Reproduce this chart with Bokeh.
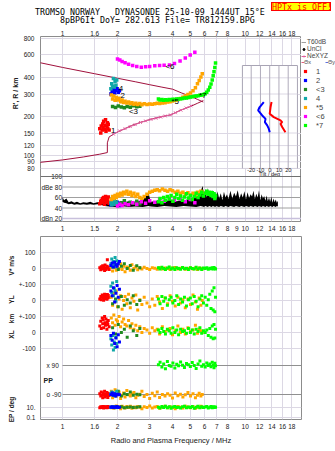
import math
from bokeh.plotting import figure
from bokeh.layouts import column, row
from bokeh.models import (Range1d, LogAxis, LinearAxis, FixedTicker, Legend, LegendItem,
                          Span, LogScale, LinearScale, Div)
from bokeh.core.properties import value
from bokeh.embed import file_html
from bokeh.resources import INLINE

# ---------------- texts / ticks ----------------
title_line1 = "TROMSO NORWAY   DYNASONDE 25-10-09 1444UT 15°E"
title_line2 = "8pBP6It DoY= 282.613 File= TR812159.BPG"
hptx_text = "HPTx is OFF!"
freq_ticks = [1, 1.5, 2, 3, 4, 5, 6, 7, 8, 10, 12, 14, 16, 18]
freq_labels = ["1", "1.6", "2", "3", "4", "5", "6", "7", "8", "10", "12", "14", "16", "18"]
freq_ticks_mid = [1, 1.5, 2, 3, 4, 5, 6, 7, 8, 9, 10, 12, 14, 16, 18]
freq_labels_mid = ["1", "1.5", "2", "3", "4", "5", "6", "7", "8", "9", "10", "12", "14", "16", "18"]
height_ticks = [80, 90, 100, 120, 150, 200, 300, 400, 600, 800]
db_ticks = [100, 80, 60, 40, 20]
db_tick_labels = ["100", "dBe 80", "60", "40", "dBn 20"]
db_grid = [80, 60, 40]
tilt_ticks = [-20, -10, 0, 10, 20]
tilt_tick_labels = ["-20", "-10", "0", "10", "20"]

# ---------------- echoes ----------------
f1 = [1.60, 1.62, 1.63, 1.65, 1.66, 1.67, 1.68, 1.70, 1.71, 1.72, 1.73, 1.75, 1.76, 1.77, 1.78, 1.80]
r1 = [162, 150, 170, 158, 176, 165, 185, 160, 172, 190, 155, 168, 180, 163, 175, 158]
db1 = [48, 52, 55, 50, 58, 54, 60, 47, 56, 62, 51, 57, 59, 53, 61, 49]
vs1 = [5, -8, 12, 0, 18, -3, 8, -12, 22, 3, -5, 15, 56, 2, 10, -6]
yl1 = [10, 25, 5, 35, 18, 30, 2, 40, 12, 28, 22, 8, 38, 15, 32, 20]
xl1 = [40, 70, 25, 90, 55, 80, 30, 100, 60, 45, 85, 20, 65, 50, 75, 35]
pp1 = [-85, -100, -75, -95, -110, -80, -90, -70, -105, -88, -98, -78, -92, -108, -84, -96]
ep1 = [8, 12, 10, 9, 11, 13, 7, 10, 12, 9, 11, 8, 10, 14, 9, 11]

f2 = [1.84, 1.87, 1.90, 1.93, 1.96, 1.99, 2.02, 2.05]
r2 = [300, 315, 325, 305, 320, 330, 310, 318]
db2 = [46, 50, 48, 52, 47, 51, 49, 45]
vs2 = [20, 35, 10, 40, 25, 15, 30, 45]
yl2 = [60, 30, 80, -10, 45, 95, 20, 70]
xl2 = [-20, -50, -5, -70, -35, -90, -15, -60]
pp2 = [-90, -80, -95, -85, -100, -90, -88, -92]
ep2 = [10, 12, 9, 11, 10, 13, 9, 10]

f3 = [1.88, 1.95, 2.02, 2.10, 2.18, 2.26, 2.35, 2.44, 2.55, 2.65]
r3 = [240, 236, 242, 238, 235, 240, 237, 243, 239, 241]
db3 = [48, 52, 46, 50, 54, 47, 51, 49, 53, 48]
vs3 = [10, 25, -5, 15, 30, 0, 20, -10, 18, 5]
yl3 = [-20, 10, -40, 25, -30, 5, -15, 30, -25, 0]
xl3 = [30, -10, 50, 0, 20, -30, 40, 10, -20, 25]
pp3 = [-80, -95, -70, -100, -85, -90, -75, -95, -88, -92]
ep3 = [9, 11, 10, 12, 8, 10, 11, 9, 10, 12]

f4 = [1.84, 1.86, 1.88, 1.90, 1.92, 1.94, 1.96, 1.98]
r4 = [330, 360, 345, 395, 340, 375, 350, 385]
db4 = [50, 46, 53, 48, 55, 47, 51, 49]
vs4 = [30, 60, 15, 45, 25, 70, 10, 50]
yl4 = [90, 50, 110, 30, 75, 60, -5, 120]
xl4 = [-40, -80, -20, -110, -60, -95, -30, -70]
pp4 = [-85, -75, -95, -90, -80, -100, -88, -70]
ep4 = [10, 11, 9, 12, 10, 8, 11, 10]

f5 = [1.85, 1.88, 1.91, 1.94, 1.97, 2.00, 2.04, 2.08, 2.12, 2.16, 2.20, 2.25, 2.30, 2.35, 2.40,
      2.46, 2.52, 2.58, 2.65, 2.72, 2.80, 2.90, 3.00, 3.10, 3.20, 3.30, 3.40, 3.52, 3.64, 3.76,
      3.88, 4.00, 4.14, 4.28, 4.42, 4.56, 4.70, 4.86, 5.02, 5.18, 5.34, 5.48, 5.60, 5.72, 5.82]
r5 = [295, 275, 290, 268, 282, 270, 278, 262, 270, 258, 264, 256, 260, 253, 257,
      250, 255, 249, 253, 248, 252, 249, 251, 250, 252, 254, 253, 256, 257, 260,
      262, 265, 268, 272, 277, 283, 289, 297, 305, 318, 335, 360, 382, 405, 430]
db5 = [56, 62, 58, 64, 60, 66, 63, 68, 65, 70, 67, 72, 66, 70, 64,
       68, 62, 66, 60, 58, 62, 66, 70, 72, 74, 75, 73, 76, 74, 72,
       75, 73, 70, 72, 68, 70, 66, 69, 65, 68, 64, 70, 67, 72, 70]
vs5 = [10, -15, 25, 5, -10, 20, 0, 30, -5, 15, -20, 10, 5, -10, 25,
       0, 12, -8, 5, -3, 8, 0, -5, 6, 2, -4, 5, -2, 4, 0,
       -6, 3, 7, -3, 2, 5, -4, 1, 6, -2, 3, -5, 4, 0, -3]
yl5 = [20, -30, 45, -10, 60, -40, 10, 30, -55, 0, 25, -20, 40, -45, 15,
       -5, 35, -60, 5, -25, 20, -15, -40, 10, -30, 25, -10, -50, 15, -20,
       30, -5, -35, 20, -15, 5, -45, 10, -25, 35, -10, -55, 15, -30, 0]
xl5 = [90, 60, 110, 45, 80, 70, 100, 35, 65, 85, 50, 40, 75, 30, 55,
       20, 45, 10, 35, 0, 25, 15, -5, 30, 10, 20, -10, 35, 5, 15,
       25, -15, 10, 40, 0, 20, -10, 30, 5, 15, 45, -5, 20, 10, 0]
pp5 = [-70, -110, -85, -60, -100, -90, -75, -115, -95, -80, -105, -65, -92, -100, -85,
       -78, -110, -95, -88, -70, -102, -90, -115, -82, -97, -75, -108, -90, -100, -85,
       -95, -112, -80, -98, -88, -105, -92, -78, -100, -86, -110, -94, -82, -99, -90]
ep5 = [8, 14, 6, 11, 18, 9, 12, 5, 15, 10, 7, 13, 9, 16, 6,
       11, 8, 14, 10, 5, 12, 9, 17, 7, 11, 13, 6, 10, 15, 8,
       12, 9, 5, 14, 10, 7, 16, 11, 8, 13, 6, 12, 9, 15, 10]

f6 = [2.00, 2.06, 2.12, 2.20, 2.30, 2.42, 2.55, 2.70, 2.85, 3.00, 3.20, 3.40, 3.60, 3.85,
      4.10, 4.40, 4.70, 5.00, 5.30]
r6 = [560, 548, 535, 522, 510, 498, 488, 482, 486, 490, 495, 498, 500, 503, 515, 540, 570, 600, 630]
db6 = [44, 47, 45, 48, 46, 50, 47, 52, 49, 54, 51, 56, 53, 58, 55, 57, 52, 56, 50]

f7 = [3.35, 3.42, 3.50, 3.58, 3.66, 3.75, 3.84, 3.93, 4.02, 4.12, 4.22, 4.32, 4.43, 4.54,
      4.65, 4.77, 4.89, 5.01, 5.13, 5.26, 5.39, 5.52, 5.65, 5.78, 5.91, 6.04, 6.16, 6.28,
      6.40, 6.50, 6.60, 6.68, 6.75, 6.82, 6.88]
r7 = [274, 270, 272, 268, 271, 270, 272, 271, 273, 272, 274, 275, 276, 277,
      279, 280, 282, 284, 286, 288, 290, 291, 293, 295, 298, 302, 310, 322,
      338, 358, 385, 415, 445, 480, 520]
db7 = [52, 58, 50, 60, 55, 62, 57, 64, 53, 60, 66, 58, 63, 55, 61, 67, 59, 64, 56, 62,
       68, 60, 65, 70, 63, 68, 72, 66, 70, 64, 69, 62, 67, 58, 64]
vs7 = [5, -3, 8, 0, -6, 4, 10, -2, 3, -5, 6, 1, -4, 7, -1, 2, -6, 5, 0, -3,
       8, -2, 4, -5, 3, 0, 6, -4, 2, -1, 5, -3, 7, 0, -2]
yl7 = [10, -20, 25, -5, 15, -30, 5, 20, -15, 0, 30, -25, 10, -10, 20, -35, 5, 15, -20, 25,
       -5, -40, 10, 30, -15, 20, -30, 5, 40, -50, 60, -60, 80, -70, 20]
xl7 = [15, 0, 25, 5, -10, 20, 10, -5, 30, 0, 15, -15, 20, 5, 10, -5, 25, 0, 15, -10,
       20, 5, 30, -5, 10, 0, 15, -20, 25, -30, 40, -40, 50, -35, 20]
pp7 = [95, 110, 80, 100, 70, 115, 90, 85, 105, 75, 98, 88, 112, 92, 78, 102, 95, 84, 108, 90,
       72, 100, 118, 86, 94, 80, 106, 90, 99, 83, 110, 92, 76, 104, 88]
ep7 = [10, 7, 13, 9, 15, 8, 12, 6, 11, 14, 9, 10, 7, 12, 16, 8, 11, 9, 13, 6,
       10, 15, 8, 12, 9, 11, 14, 7, 10, 13, 8, 12, 9, 11, 10]

echo_names = ["1", "2", "<3", "4", "*5", "<6", "*7"]
echo_colors = ["#ff0000", "#0000ff", "#208a20", "#10a8a8", "#ffa500", "#ff00ff", "#00ff00"]
echo_label_f = [1.84, 2.08, 2.31, 2.03, 3.95, 3.66, 5.58]
echo_label_h = [158, 292, 220, 328, 263, 490, 292]
echo_label_text = ["1", "2", "<3", "4", "*5", "<6", "*7"]

# ---------------- profile / model lines ----------------
upper_f = [0.75, 1.0, 1.5, 2.0, 2.5, 3.0, 3.5, 4.0, 4.5, 5.0, 5.5, 5.9]
upper_h = [524, 481, 430, 397, 373, 354, 339, 327, 305, 289, 272, 260]
prof_f = [0.75, 1.0, 1.3, 1.6, 1.76, 1.76, 1.80, 1.95, 2.15, 2.4, 2.7, 3.1, 3.5, 3.9, 4.4, 5.0, 5.5, 5.9]
prof_h = [89, 93, 98, 103, 106, 126, 140, 150, 160, 172, 182, 193, 201, 207, 224, 240, 255, 267]
ne_f = [1.90, 2.05, 2.2, 2.35, 2.5, 2.67, 2.85, 3.05, 3.25, 3.45, 3.65, 3.9, 4.15, 4.45, 4.75, 5.05]
ne_h = [147, 156, 162, 168, 174, 181, 186, 191, 195, 199, 203, 207, 215, 225, 234, 243]

# ---------------- tilt inset ----------------
thx_deg = [2.0, 0.9, 0.0, 4.4, 11.7, 13.5, 11.7, 13.5, 17.0]
thx_h = [260, 237, 211, 199, 188, 182, 177, 167, 152]
thy_deg = [-6.4, -11.0, -12.5, -8.1, -4.5, -5.2, -2.7, -1.0, 0.0]
thy_h = [260, 237, 224, 205, 193, 182, 172, 162, 152]

# ---------------- noise (dBe) ----------------
noise_f = [1.00, 1.02, 1.05, 1.08, 1.12, 1.16, 1.20, 1.25, 1.30, 1.36, 1.42, 1.48, 1.55, 1.62, 1.70,
           1.80, 1.95, 2.10, 2.30, 2.50, 2.75, 2.95, 3.05, 3.30, 3.60, 3.90, 4.20, 4.60, 5.00, 5.40,
           5.70, 5.85, 5.95, 6.05, 6.15, 6.25, 6.35, 6.45, 6.55, 6.65, 6.75, 6.85, 6.95, 7.05, 7.2,
           7.35, 7.5, 7.65, 7.8, 7.95, 8.1, 8.3, 8.5, 8.7, 8.9, 9.1, 9.3, 9.5, 9.7, 9.9,
           10.1, 10.3, 10.5, 10.7, 10.9, 11.1, 11.3, 11.5, 11.7, 11.9, 12.1, 12.3, 12.5, 12.7, 12.9,
           13.1, 13.3, 13.5, 13.7, 13.9, 14.1, 14.3, 14.5, 14.7, 14.9, 15.1]
noise_hi = [61, 55, 58, 51, 53, 50, 52, 49, 51, 50, 52, 49, 51, 50, 52,
            50, 52, 50, 53, 51, 55, 68, 52, 54, 52, 56, 53, 55, 57, 60,
            72, 82, 65, 76, 60, 78, 62, 72, 58, 75, 60, 70, 56, 72, 58,
            68, 55, 71, 60, 66, 57, 73, 58, 69, 62, 74, 57, 68, 60, 72,
            56, 70, 59, 66, 62, 73, 57, 67, 60, 74, 55, 66, 58, 63, 54,
            64, 53, 60, 52, 62, 50, 58, 51, 56, 50, 54]
noise_lo = [52, 50, 49, 47, 48, 46, 47, 46, 47, 46, 47, 46, 47, 46, 44,
            43, 42, 44, 42, 43, 42, 44, 43, 42, 44, 43, 42, 44, 43, 42,
            44, 43, 42, 44, 43, 42, 44, 43, 42, 44, 43, 42, 44, 43, 42,
            44, 43, 42, 44, 43, 42, 44, 43, 42, 44, 43, 42, 44, 43, 42,
            44, 43, 42, 44, 43, 42, 44, 43, 42, 44, 43, 42, 44, 43, 42,
            44, 43, 42, 44, 43, 42, 44, 43, 42, 44, 43]

# ---------------- layout helpers (pixel geometry of the panels) ----------------
FONT = "Liberation Sans"
MONO = "DejaVu Sans Mono"
GRID = "#dcd8e4"
FRAME = "#8c8c8c"
MAROON = "#a0103c"
PINK = "#e0609f"
TXT = "#202020"
HEADER_H = 26
TOP_FRAME_TOP, TOP_FRAME_BOT = 36.0, 221.0


def fx(px):       # frequency at canvas x
    return 10 ** ((px - 62.0) / 182.7)


def hy(py):       # virtual height at canvas y (upper figure)
    return 800 * 10 ** (-(py - 38.3) / 129.6)


def dbat(py):     # dB at canvas y (upper figure)
    return 100 - (py - 176.0) / 0.525


def tx(px):       # tilt degrees at canvas x (inset)
    return (px - 269.2) / 0.925


def style_axis(ax, size="6.5px", standoff=2):
    ax.axis_line_color = None
    ax.major_tick_line_color = None
    ax.minor_tick_line_color = None
    ax.major_tick_out = 0
    ax.major_tick_in = 0
    ax.minor_tick_out = 0
    ax.minor_tick_in = 0
    ax.major_label_text_font = FONT
    ax.major_label_text_font_size = size
    ax.major_label_text_color = TXT
    ax.major_label_standoff = standoff


def plain(fig):
    fig.xaxis.visible = False
    fig.yaxis.visible = False
    fig.xgrid.visible = False
    fig.ygrid.visible = False
    fig.outline_line_color = None
    fig.background_fill_color = "white"
    fig.border_fill_color = "white"


# ================= header (title lines and transmitter flag) =================
head_html = (
    '<div style="position:relative;width:335px;height:%dpx;font-family:\'%s\',monospace;'
    'font-size:8.3px;line-height:1;color:#000;white-space:pre;">'
    '<span style="position:absolute;left:35px;top:7.6px;">%s</span>'
    '<span style="position:absolute;left:60px;top:16.4px;">%s</span>'
    '<span style="position:absolute;left:271px;top:2px;width:60px;height:9px;line-height:9px;'
    'background:#ffff00;border:1px solid #ff0000;color:#ff0000;text-align:center;">%s</span>'
    '</div>' % (HEADER_H, MONO, title_line1, title_line2, hptx_text))
head = Div(text=head_html, width=335, height=HEADER_H, margin=(0, 0, 0, 0))

# ================= upper figure (heights + dBe) =================
top = figure(frame_width=261, frame_height=int(TOP_FRAME_BOT - TOP_FRAME_TOP),
             x_axis_type="log", y_axis_type="log",
             x_range=Range1d(fx(40), fx(301)), y_range=Range1d(hy(TOP_FRAME_BOT), hy(TOP_FRAME_TOP)),
             min_border_left=40, min_border_right=0, min_border_top=int(TOP_FRAME_TOP) - HEADER_H,
             min_border_bottom=15, output_backend="svg", toolbar_location=None)
top.extra_y_ranges = {"db": Range1d(dbat(TOP_FRAME_BOT), dbat(TOP_FRAME_TOP))}
top.extra_y_scales = {"db": LinearScale()}
top.extra_x_ranges = {"tilt": Range1d(tx(40), tx(301))}
top.extra_x_scales = {"tilt": LinearScale()}
top.outline_line_color = FRAME
top.background_fill_color = "white"
top.border_fill_color = "white"

top.xaxis[0].ticker = FixedTicker(ticks=freq_ticks_mid)
top.xaxis[0].major_label_overrides = dict(zip(freq_ticks_mid, freq_labels_mid))
style_axis(top.xaxis[0], standoff=4)
ax_above = LogAxis(ticker=FixedTicker(ticks=freq_ticks),
                   major_label_overrides=dict(zip(freq_ticks, freq_labels)))
style_axis(ax_above, standoff=1)
top.add_layout(ax_above, "above")
top.yaxis[0].ticker = FixedTicker(ticks=height_ticks)
top.yaxis[0].major_label_overrides = {t: str(t) for t in height_ticks}
style_axis(top.yaxis[0], standoff=6)
# rotated quantity name, as the tick label of an outer left axis
r_title_h = round(hy(93))
ax_rtitle = LogAxis(ticker=FixedTicker(ticks=[r_title_h]),
                    major_label_overrides={r_title_h: "R', R / km"},
                    major_label_orientation="vertical")
style_axis(ax_rtitle, size="7px", standoff=1)
ax_rtitle.major_label_text_font_style = "bold"
top.add_layout(ax_rtitle, "left")
top.xgrid.ticker = FixedTicker(ticks=freq_ticks)
top.xgrid.grid_line_color = GRID
top.ygrid.grid_line_color = GRID

# dBe panel grid + separator
top.segment(x0=[1.0] * len(db_grid), x1=[fx(301)] * len(db_grid), y0=db_grid, y1=db_grid,
            line_color="#a0a0a0", line_width=1, y_range_name="db")
top.segment(x0=[1.0], x1=[fx(301)], y0=[20], y1=[20], line_color="#c8c0dc", line_width=1.5,
            y_range_name="db")
top.add_layout(Span(location=100, dimension="width", y_range_name="db",
                    line_color="#707070", line_width=1))
top.text(x=[fx(61.5)] * len(db_ticks), y=db_ticks, text=db_tick_labels, y_range_name="db",
         text_align="right", text_baseline="middle", text_font=value(FONT),
         text_font_size="6.5px", text_color=TXT)

# noise band
top.varea(x=noise_f, y1=noise_lo, y2=noise_hi, fill_color="black", y_range_name="db")

# profile lines
top.line(upper_f, upper_h, line_color=MAROON, line_width=1)
top.line(prof_f, prof_h, line_color=MAROON, line_width=1)
top.line(ne_f, ne_h, line_color=PINK, line_width=1)
top.scatter(ne_f, ne_h, marker="x", size=4, line_color=PINK, line_width=1)

echo_f = [f1, f2, f3, f4, f5, f6, f7]
echo_r = [r1, r2, r3, r4, r5, r6, r7]
echo_db = [db1, db2, db3, db4, db5, db6, db7]
for f, d, c in zip(echo_f, echo_db, echo_colors):
    top.scatter(f, d, marker="square", size=3.5, fill_color=c, line_color=None, y_range_name="db")
for f, r, c in zip(echo_f, echo_r, echo_colors):
    top.scatter(f, r, marker="square", size=3.5, fill_color=c, line_color=None)

top.text(x=echo_label_f, y=echo_label_h, text=echo_label_text, text_font=value(FONT),
         text_font_size="8px", text_color="black", text_baseline="middle", text_align="left")

# tilt inset
top.quad(left=[tilt_ticks[0] - 9.5], right=[tilt_ticks[-1] + 10], bottom=[hy(168)], top=[hy(65)],
         fill_color="white", line_color="#a8a4b4", line_width=1, x_range_name="tilt")
in_h = [h for h in height_ticks if hy(168) < h < hy(65)]
top.segment(x0=[tilt_ticks[0] - 9.5] * len(in_h), x1=[tilt_ticks[-1] + 10] * len(in_h),
            y0=in_h, y1=in_h, line_color=GRID, x_range_name="tilt")
top.segment(x0=tilt_ticks, x1=tilt_ticks, y0=[hy(168)] * 5, y1=[hy(65)] * 5,
            line_color="#b0acbc", x_range_name="tilt")
top.line(thx_deg, thx_h, line_color="#ff0000", line_width=2, x_range_name="tilt")
top.line(thy_deg, thy_h, line_color="#0000ff", line_width=2, x_range_name="tilt")
top.text(x=tilt_ticks, y=[hy(169.8)] * 5, text=tilt_tick_labels, x_range_name="tilt",
         text_align="center", text_baseline="middle", text_font=value(FONT),
         text_font_size="5.5px", text_color=TXT)
top.text(x=[0], y=[hy(173.4)], text=["Tilt / deg"], x_range_name="tilt",
         text_align="center", text_baseline="middle", text_font=value(FONT),
         text_font_size="5.5px", text_color=TXT)

# ================= legend strip (right of the upper figure) =================
# The sample renderers hold real series values that lie outside this strip's
# 0..1 ranges, so only their legend swatches are visible.
leg = figure(frame_width=34, frame_height=int(TOP_FRAME_BOT - TOP_FRAME_TOP),
             x_range=Range1d(0, 1), y_range=Range1d(0, 1),
             min_border_left=0, min_border_right=0, min_border_top=int(TOP_FRAME_TOP) - HEADER_H,
             min_border_bottom=15, output_backend="svg", toolbar_location=None)
plain(leg)
g_t60 = leg.line(x=noise_f, y=noise_hi, line_color="#a0a0a0", line_width=1)
g_uncl = leg.scatter(x=noise_f[:1], y=noise_lo[:1], marker="circle", size=2,
                     fill_color="black", line_color="black")
g_neline = leg.line(x=ne_f, y=ne_h, line_color=PINK, line_width=1)
g_ne = leg.scatter(x=ne_f, y=ne_h, marker="cross", size=5, line_color=PINK, line_width=1)
g_thx = leg.line(x=thx_deg, y=thx_h, line_color="#e06080", line_width=1)
g_thy = leg.line(x=thy_deg, y=thy_h, line_color="#6070e0", line_width=1)
g_echo = [leg.scatter(x=f, y=r, marker="square", size=3, fill_color=c, line_color=None)
          for f, r, c in zip(echo_f, echo_r, echo_colors)]

leg_common = dict(padding=0, margin=0, background_fill_alpha=0, border_line_alpha=0,
                  label_text_font=FONT)
frame_bottom = TOP_FRAME_BOT
legA = Legend(items=[LegendItem(label="T60dB", renderers=[g_t60]),
                     LegendItem(label="UnCl", renderers=[g_uncl]),
                     LegendItem(label="NeXYZ", renderers=[g_neline, g_ne])],
              location=(0, frame_bottom - 59), glyph_width=5, glyph_height=6, label_height=6,
              spacing=0, label_standoff=1, label_text_font_size="6.5px", **leg_common)
legC = Legend(items=[LegendItem(label="Θx", renderers=[g_thx]),
                     LegendItem(label="Θy", renderers=[g_thy])],
              orientation="horizontal", location=(0, frame_bottom - 64.5), glyph_width=3,
              glyph_height=6, label_height=6, spacing=1, label_standoff=0,
              label_text_font_size="5.5px", **leg_common)
legB = Legend(items=[LegendItem(label=n, renderers=[r]) for n, r in zip(echo_names, g_echo)],
              location=(0, frame_bottom - 129.8), glyph_width=8, glyph_height=8, label_height=8,
              spacing=0, label_standoff=7, label_text_font_size="7.5px", **leg_common)
for lg in (legA, legC, legB):
    leg.add_layout(lg)

# ================= lower figure (V*, YL, XL, PP, EP) =================
LOW_TOP, LOW_BOT = 236.0, 419.0
band_zero = {"vs": 268.1, "yl": 300.0, "xl": 331.9, "pp": 379.5}
band_scale = {"vs": 0.159, "yl": 0.159, "xl": 0.159, "pp": 29.0 / 180.0}
EP_TEN_PX, EP_DECADE_PX = 406.7, 5.15


def rowpx(py):
    return LOW_BOT - py


def band_px(b, v):
    return band_zero[b] - v * band_scale[b]


def ep_px(v):
    return EP_TEN_PX - (math.log10(v) - 1) * EP_DECADE_PX


low = figure(frame_width=261, frame_height=int(LOW_BOT - LOW_TOP), x_axis_type="log",
             x_range=Range1d(fx(40), fx(301)), y_range=Range1d(0, LOW_BOT - LOW_TOP),
             min_border_left=40, min_border_right=34, min_border_top=0, min_border_bottom=32,
             output_backend="svg", toolbar_location=None)
low.extra_y_ranges = {b: Range1d(-(LOW_BOT - band_zero[b]) / band_scale[b],
                                 (band_zero[b] - LOW_TOP) / band_scale[b]) for b in band_zero}
low.extra_y_ranges["ep"] = Range1d(10 ** (1 - (LOW_BOT - EP_TEN_PX) / EP_DECADE_PX),
                                   10 ** (1 + (EP_TEN_PX - LOW_TOP) / EP_DECADE_PX))
low.extra_y_scales = {b: LinearScale() for b in band_zero}
low.extra_y_scales["ep"] = LogScale()
low.outline_line_color = FRAME
low.background_fill_color = "white"
low.border_fill_color = "white"

band_ticks = [("vs", 100, "100"), ("vs", 0, "0"), ("vs", -100, "+-100"), ("yl", 0, "0"),
              ("yl", -100, "+-100"), ("xl", 0, "0"), ("xl", -100, "-100")]
tick_rows = [round(rowpx(band_px(b, v))) for b, v, _ in band_ticks]
tick_text = [t for _, _, t in band_ticks]
ep_ticks = [10, 0.1]
ep_tick_text = ["10.", "0.1"]
tick_rows += [round(rowpx(ep_px(v))) for v in ep_ticks]
tick_text += ep_tick_text
low.yaxis[0].ticker = FixedTicker(ticks=tick_rows)
low.yaxis[0].major_label_overrides = dict(zip(tick_rows, tick_text))
style_axis(low.yaxis[0], standoff=5)

side_text = ["V* m/s", "YL", "km", "XL", "EP / deg"]
side_px = [265, 299, 318, 334, 409]
side_rows = [round(rowpx(p)) for p in side_px]
ax_side = LinearAxis(ticker=FixedTicker(ticks=side_rows),
                     major_label_overrides=dict(zip(side_rows, side_text)),
                     major_label_orientation="vertical")
style_axis(ax_side, size="6.5px", standoff=1)
ax_side.major_label_text_font_style = "bold"
low.add_layout(ax_side, "left")

low.xaxis[0].ticker = FixedTicker(ticks=freq_ticks)
low.xaxis[0].major_label_overrides = dict(zip(freq_ticks, freq_labels))
style_axis(low.xaxis[0], standoff=4)
low.xaxis[0].axis_label = "Radio and Plasma Frequency / MHz"
low.xaxis[0].axis_label_text_font = FONT
low.xaxis[0].axis_label_text_font_size = "7.5px"
low.xaxis[0].axis_label_text_font_style = "normal"
low.xaxis[0].axis_label_standoff = 4
low.xaxis[0].axis_label_text_color = TXT
low.xgrid.ticker = FixedTicker(ticks=freq_ticks)
low.xgrid.grid_line_color = GRID
low.ygrid.grid_line_color = GRID

pp_levels = [90, -90]
pp_level_text = ["x 90", "o -90"]
low.segment(x0=[1.0, 1.0], x1=[fx(301)] * 2, y0=pp_levels, y1=pp_levels, line_color="#909090",
            line_width=1, y_range_name="pp")
low.text(x=[fx(46)] * 2, y=pp_levels, text=pp_level_text, y_range_name="pp", text_align="left",
         text_baseline="middle", text_font=value(FONT), text_font_size="6.5px", text_color=TXT)
low.text(x=[fx(43)], y=[0], text=["PP"], y_range_name="pp", text_align="left",
         text_baseline="middle", text_font=value(FONT), text_font_size="7px",
         text_font_style="bold", text_color=TXT)

echo_vs = [vs1, vs2, vs3, vs4, vs5, None, vs7]
echo_yl = [yl1, yl2, yl3, yl4, yl5, None, yl7]
echo_xl = [xl1, xl2, xl3, xl4, xl5, None, xl7]
echo_pp = [pp1, pp2, pp3, pp4, pp5, None, pp7]
echo_ep = [ep1, ep2, ep3, ep4, ep5, None, ep7]
order = [0, 4, 6, 2, 3, 1]
for i in order:
    f, c = echo_f[i], echo_colors[i]
    for vals, rn in ((echo_vs[i], "vs"), (echo_yl[i], "yl"), (echo_xl[i], "xl"),
                     (echo_pp[i], "pp"), (echo_ep[i], "ep")):
        low.scatter(f, vals, marker="square", size=3, fill_color=c, line_color=None,
                    y_range_name=rn)

layout = column(head, row(top, leg, spacing=0), low, spacing=0)
open("out.html", "w").write(file_html(layout, INLINE))
